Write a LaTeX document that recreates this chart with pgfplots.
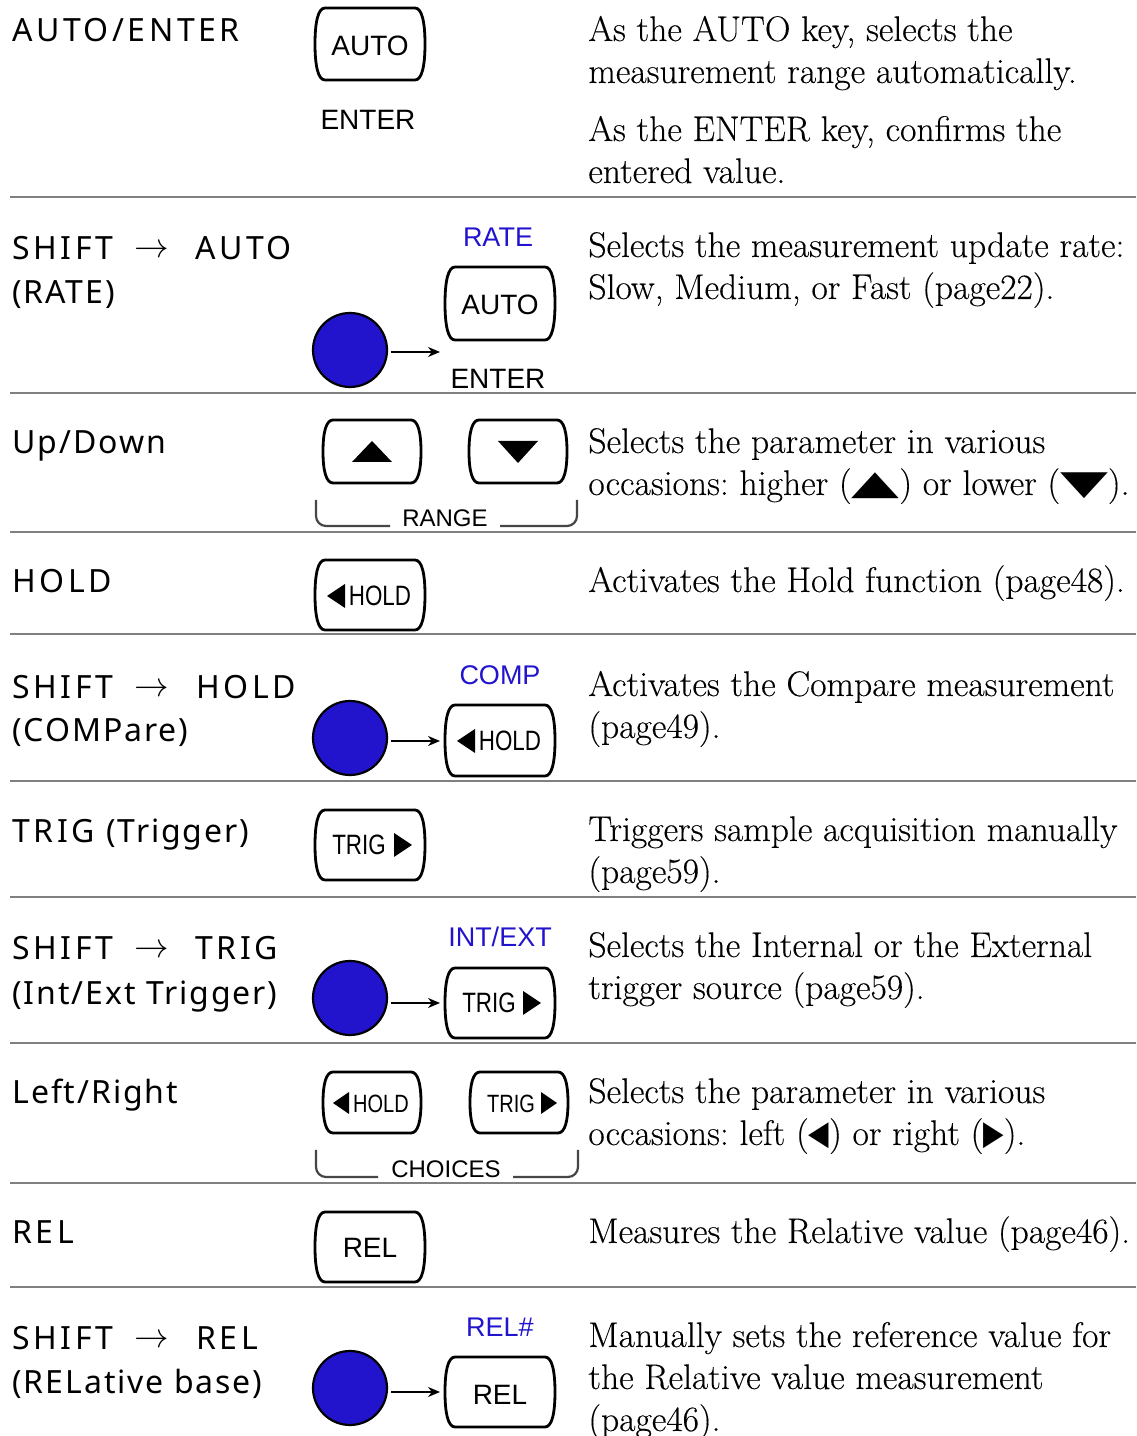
\documentclass[border=0pt]{standalone}
\usepackage{fontspec}
\usepackage{graphicx}
\usepackage{pgfplots}
\pgfplotsset{compat=1.18}
\usetikzlibrary{arrows.meta}
\setmainfont[FakeBold=0.25]{Latin Modern Roman}
\newfontfamily\keyfont{Liberation Sans}
\newfontfamily\keynarrow[FakeStretch=0.8]{Liberation Sans}
\newfontfamily\lblfont[LetterSpace=6]{Noto Sans}
\newfontfamily\lblcaps[LetterSpace=11]{Noto Sans}
\newfontfamily\symfont{DejaVu Sans}
\definecolor{keyblue}{RGB}{34,20,205}
\definecolor{sepgray}{RGB}{128,128,128}
\definecolor{brk}{RGB}{70,70,70}
\frenchspacing

% key outline: L R T B (pixels, y downward)
\newcommand{\keyshape}[4]{%
 \draw[line width=1.4pt, fill=white, line join=round]
  ({#1+10},{-#3}) -- ({#2-10},{-#3})
  .. controls ({#2-3},{-#3}) and ({#2},{-#3-0.2*(#4-#3)}) .. ({#2},{-0.5*#3-0.5*#4})
  .. controls ({#2},{-#4+0.2*(#4-#3)}) and ({#2-3},{-#4}) .. ({#2-10},{-#4})
  -- ({#1+10},{-#4})
  .. controls ({#1+3},{-#4}) and ({#1},{-#4+0.2*(#4-#3)}) .. ({#1},{-0.5*#3-0.5*#4})
  .. controls ({#1},{-#3-0.2*(#4-#3)}) and ({#1+3},{-#3}) .. ({#1+10},{-#3}) -- cycle;}
\newcommand{\lbl}[3]{\node[anchor=base west,inner sep=0pt,font=\lblfont\fontsize{16}{19}\selectfont] at (#1,-#2) {#3};}
\newcommand{\lblc}[3]{\node[anchor=base west,inner sep=0pt,font=\lblcaps\fontsize{16}{19}\selectfont] at (#1,-#2) {#3};}
\newcommand{\dsc}[2]{\node[anchor=base west,inner sep=0pt,font=\fontsize{17.8}{21}\selectfont] at (588,-#1) {#2};}
\newcommand{\ktext}[4]{\node[anchor=base,inner sep=0pt,font=#4] at (#1,-#2) {#3};}
\newcommand{\tri}[6]{\fill (#1,-#2) -- (#3,-#4) -- (#5,-#6) -- cycle;}
\newcommand{\shiftarrow}[2]{\draw[-{Stealth[length=6pt,width=5pt]}, line width=1pt] (#1,-#2) -- ({#1+49},-#2);}
\newcommand{\tup}{\raisebox{0.02em}{\scalebox{1.75}[0.95]{\symfont ▲}}}
\newcommand{\tdown}{\raisebox{0.02em}{\scalebox{1.75}[0.95]{\symfont ▼}}}
\newcommand{\tleft}{\scalebox{0.75}[0.95]{\symfont ◀}}
\newcommand{\tright}{\scalebox{0.75}[0.95]{\symfont ▶}}
\newcommand{\KF}{\keyfont\fontsize{14}{16}\selectfont}
\newcommand{\KN}{\keynarrow\fontsize{14}{16}\selectfont}
\newcommand{\KNs}{\keynarrow\fontsize{12.5}{15}\selectfont}
\newcommand{\KB}{\keyfont\fontsize{13.5}{16}\selectfont\color{keyblue}}
\newcommand{\KS}{\keyfont\fontsize{12}{14}\selectfont}

\begin{document}
\begin{tikzpicture}
\begin{axis}[x=0.5pt, y=0.5pt, xmin=0, xmax=1136, ymin=-1436, ymax=0,
  hide axis, clip=false]
% separators
\addplot[sepgray, line width=1.25pt, forget plot] coordinates {(10,-197) (1136,-197)};
\addplot[sepgray, line width=1.25pt, forget plot] coordinates {(10,-393) (1136,-393)};
\addplot[sepgray, line width=1.25pt, forget plot] coordinates {(10,-532) (1136,-532)};
\addplot[sepgray, line width=1.25pt, forget plot] coordinates {(10,-634) (1136,-634)};
\addplot[sepgray, line width=1.25pt, forget plot] coordinates {(10,-781) (1136,-781)};
\addplot[sepgray, line width=1.25pt, forget plot] coordinates {(10,-897) (1136,-897)};
\addplot[sepgray, line width=1.25pt, forget plot] coordinates {(10,-1043) (1136,-1043)};
\addplot[sepgray, line width=1.25pt, forget plot] coordinates {(10,-1183) (1136,-1183)};
\addplot[sepgray, line width=1.25pt, forget plot] coordinates {(10,-1287) (1136,-1287)};
% SHIFT buttons
\addplot[only marks, mark=*, mark size=18.5pt, mark options={fill=keyblue, draw=black, line width=1.1pt}]
  coordinates {(350,-350) (350,-738) (350,-998) (350,-1388)};

% ---- left labels
\lblc{12}{42}{AUTO/ENTER}
\lblc{12}{260}{SHIFT}\lblc{195}{260}{AUTO}\lbl{12}{304}{(RATE)}
\lbl{12}{454}{Up/Down}
\lblc{12}{593}{HOLD}
\lblc{12}{699}{SHIFT}\lblc{196}{699}{HOLD}\lbl{12}{742}{(COMPare)}
\lblc{12}{843}{TRIG}\lbl{106}{843}{(Trigger)}
\lblc{12}{960}{SHIFT}\lblc{195}{960}{TRIG}\lbl{12}{1005}{(Int/Ext Trigger)}
\lbl{12}{1104}{Left/Right}
\lblc{12}{1244}{REL}
\lblc{12}{1350}{SHIFT}\lblc{196}{1350}{REL}\lbl{12}{1394}{(RELative base)}
\node[anchor=base,inner sep=0pt,font=\fontsize{16}{19}\selectfont] at (152,-258) {$\rightarrow$};
\node[anchor=base,inner sep=0pt,font=\fontsize{16}{19}\selectfont] at (152,-697) {$\rightarrow$};
\node[anchor=base,inner sep=0pt,font=\fontsize{16}{19}\selectfont] at (152,-958) {$\rightarrow$};
\node[anchor=base,inner sep=0pt,font=\fontsize{16}{19}\selectfont] at (152,-1348) {$\rightarrow$};

% ---- descriptions
\dsc{41}{As the AUTO key, selects the}
\dsc{83}{measurement range automatically.}
\dsc{141}{As the ENTER key, confirms the}
\dsc{183}{entered value.}
\dsc{257}{Selects the measurement update rate:}
\dsc{299}{Slow, Medium, or Fast (page22).}
\dsc{453}{Selects the parameter in various}
\dsc{495}{occasions: higher (\tup) or lower (\tdown).}
\dsc{592}{Activates the Hold function (page48).}
\dsc{696}{Activates the Compare measurement}
\dsc{738}{(page49).}
\dsc{841}{Triggers sample acquisition manually}
\dsc{883}{(page59).}
\dsc{957}{Selects the Internal or the External}
\dsc{999}{trigger source (page59).}
\dsc{1103}{Selects the parameter in various}
\dsc{1145}{occasions: left (\tleft) or right (\tright).}
\dsc{1243}{Measures the Relative value (page46).}
\dsc{1347}{Manually sets the reference value for}
\dsc{1389}{the Relative value measurement}
\dsc{1431}{(page46).}

% ---- row 1
\keyshape{315}{425}{8}{80}
\ktext{370}{56}{AUTO}{\KF}
\ktext{368}{130}{ENTER}{\KF}
% ---- row 2
\ktext{498}{247}{RATE}{\KB}
\keyshape{445}{555}{267}{340}
\ktext{500}{315}{AUTO}{\KF}
\ktext{498}{389}{ENTER}{\KF}
\shiftarrow{391}{352}
% ---- row 3
\keyshape{323}{421}{420}{483}
\keyshape{469}{567}{420}{483}
\tri{352}{462}{392}{462}{372}{441}
\tri{498}{441}{538}{441}{518}{463}
\draw[brk, line width=1.1pt, rounded corners=5pt] (316,-500) -- (316,-526) -- (390,-526);
\draw[brk, line width=1.1pt, rounded corners=5pt] (500,-526) -- (577,-526) -- (577,-500);
\ktext{445}{527}{RANGE}{\KS}
% ---- row 4
\keyshape{315}{425}{560}{630}
\tri{327}{596}{345}{584}{345}{608}
\ktext{380}{606}{HOLD}{\KN}
% ---- row 5
\ktext{500}{685}{COMP}{\KB}
\keyshape{445}{555}{705}{776}
\tri{457}{741}{475}{729}{475}{753}
\ktext{510}{751}{HOLD}{\KN}
\shiftarrow{391}{741}
% ---- row 6
\keyshape{315}{425}{810}{880}
\ktext{359}{855}{TRIG}{\KN}
\tri{394}{833}{394}{857}{412}{845}
% ---- row 7
\ktext{500}{947}{INT/EXT}{\KB}
\keyshape{445}{555}{968}{1038}
\ktext{489}{1013}{TRIG}{\KN}
\tri{523}{991}{523}{1015}{541}{1003}
\shiftarrow{391}{1003}
% ---- row 8
\keyshape{323}{421}{1072}{1133}
\tri{333}{1103}{349}{1092}{349}{1114}
\ktext{381}{1113}{HOLD}{\KNs}
\keyshape{470}{568}{1072}{1133}
\ktext{511}{1113}{TRIG}{\KNs}
\tri{541}{1092}{541}{1114}{557}{1103}
\draw[brk, line width=1.1pt, rounded corners=5pt] (316,-1150) -- (316,-1177) -- (378,-1177);
\draw[brk, line width=1.1pt, rounded corners=5pt] (513,-1177) -- (578,-1177) -- (578,-1150);
\ktext{446}{1178}{CHOICES}{\KS}
% ---- row 9
\keyshape{315}{425}{1212}{1282}
\ktext{370}{1258}{REL}{\KF}
% ---- row 10
\ktext{500}{1337}{REL\#}{\KB}
\keyshape{445}{555}{1357}{1427}
\ktext{500}{1404}{REL}{\KF}
\shiftarrow{391}{1392}
\end{axis}
\pgfresetboundingbox
\useasboundingbox (current axis.south west) rectangle (current axis.north east);
\end{tikzpicture}
\end{document}
